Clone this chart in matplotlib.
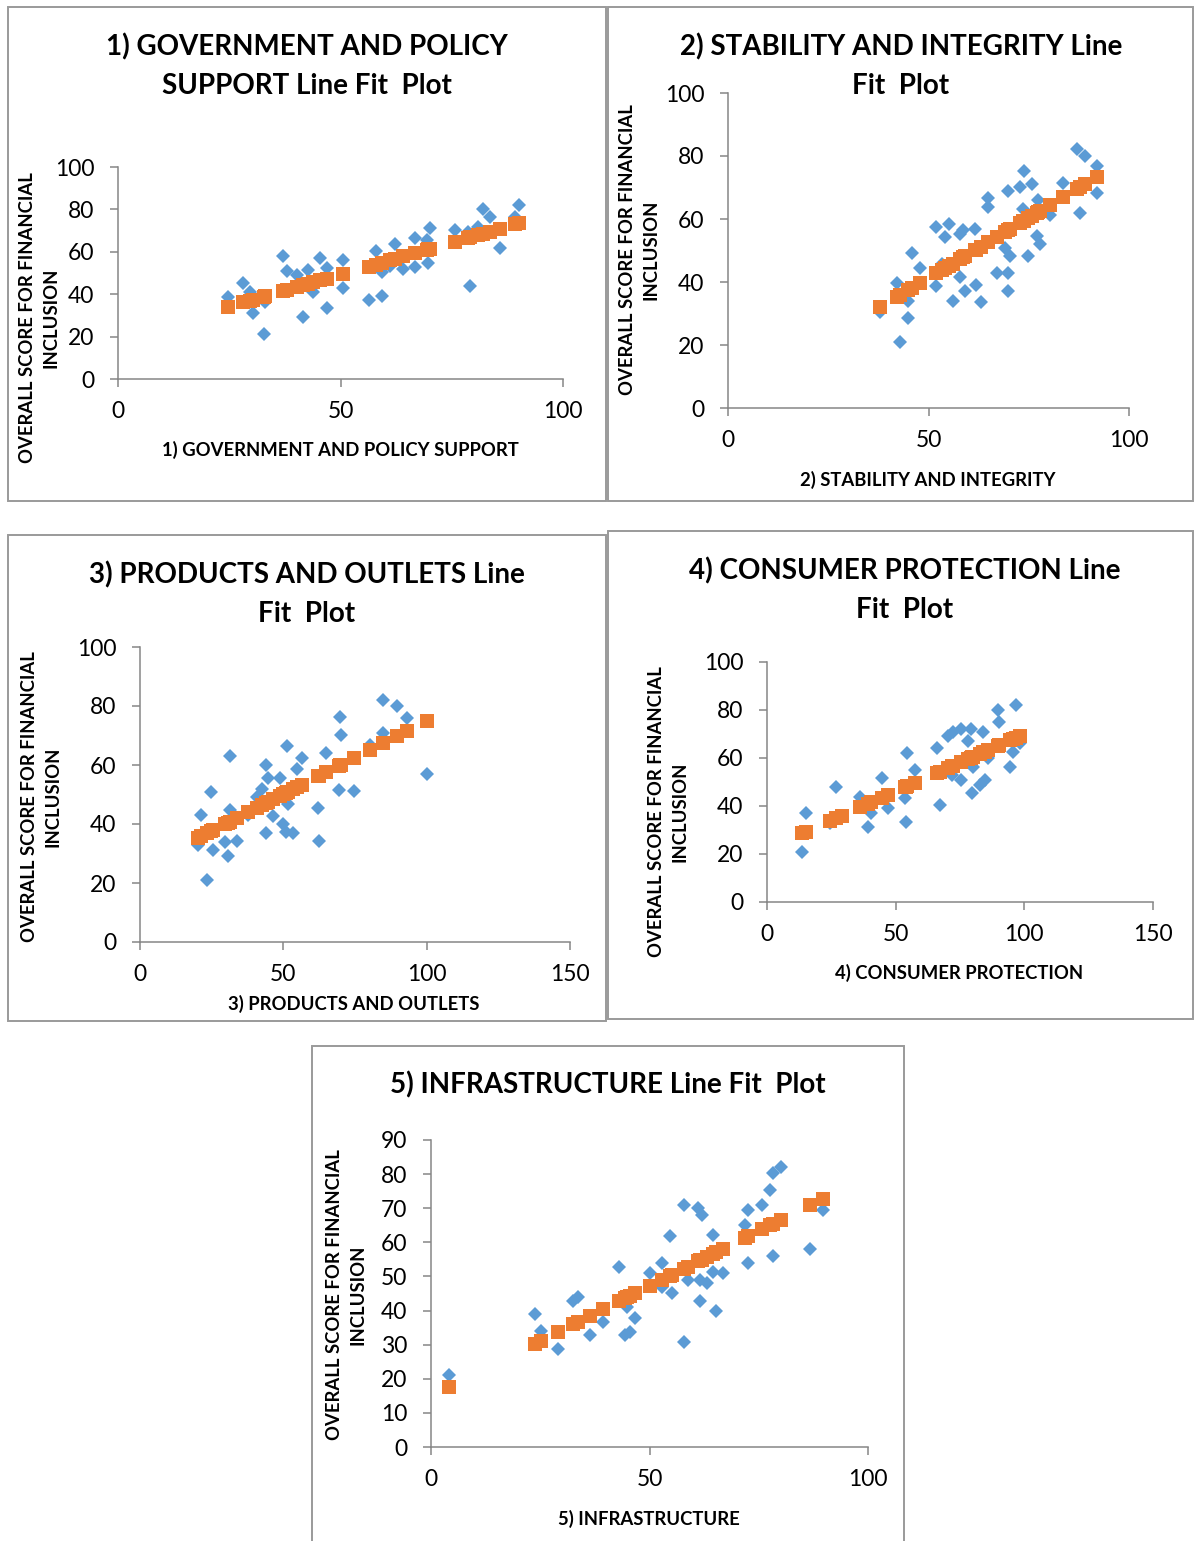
"""Five Excel-style line fit plots: index components vs overall financial inclusion score"""

import matplotlib

matplotlib.use("Agg")
from matplotlib import pyplot as plt
from matplotlib.patches import Rectangle

plt.rcParams["font.family"] = ["Lato", "DejaVu Sans"]

W, H = 1195, 1541
BLUE = "#5B9BD5"
ORANGE = "#ED7D31"
GREY = "#868686"
YLABEL = "OVERALL SCORE FOR FINANCIAL\nINCLUSION"

# 1) government and policy support
gov_x = [24.8, 28.2, 29.7, 30.4, 32.7, 33.0, 37.0, 37.9, 40.2, 41.6, 42.8, 43.9, 45.4,
         46.9, 46.9, 50.6, 50.6, 56.3, 57.9, 59.4, 59.4, 61.1, 62.2, 64.1, 66.7, 66.7,
         69.5, 69.7, 70.0, 75.7, 78.7, 79.1, 81.0, 82.0, 83.6, 85.8, 89.2, 90.0]
gov_y = [38.8, 45.1, 41.2, 31.0, 21.2, 36.5, 58.0, 51.1, 49.0, 29.4, 51.4, 41.2, 57.2,
         52.2, 33.3, 56.1, 42.8, 37.3, 60.4, 39.2, 50.6, 53.3, 63.5, 51.7, 66.4, 53.0,
         65.6, 54.9, 71.1, 70.3, 69.5, 44.0, 71.8, 80.0, 76.3, 62.0, 76.6, 82.0]
gov_fit = [34.1, 36.1, 37.0, 37.4, 38.8, 39.0, 41.4, 42.0, 43.3, 44.2, 44.9, 45.6, 46.5,
           47.4, 47.4, 49.6, 49.6, 53.0, 54.0, 54.9, 54.9, 55.9, 56.6, 57.8, 59.3, 59.3,
           61.0, 61.1, 61.3, 64.7, 66.6, 66.8, 67.9, 68.5, 69.5, 70.8, 72.9, 73.4]

# 2) stability and integrity
stab_x = [37.9, 42.1, 42.9, 45.0, 45.0, 46.0, 47.9, 51.9, 51.9, 53.3, 54.0, 55.0, 56.0,
          57.9, 57.9, 58.7, 59.1, 61.6, 61.8, 63.0, 64.9, 64.9, 67.0, 69.1, 69.9, 69.9,
          69.9, 70.3, 72.8, 73.6, 73.9, 74.9, 75.7, 77.0, 77.4, 77.8, 80.3, 83.6, 87.0,
          87.8, 89.0, 91.9, 91.9]
stab_y = [30.5, 39.8, 20.8, 28.7, 34.1, 49.2, 44.3, 57.4, 38.7, 45.7, 54.4, 58.4, 34.0,
          41.5, 55.3, 56.4, 37.2, 56.9, 38.9, 33.8, 66.6, 63.7, 43.0, 50.7, 42.8, 37.0,
          69.0, 48.1, 70.1, 63.1, 75.1, 48.1, 71.1, 54.7, 66.0, 52.0, 61.2, 71.3, 82.1,
          62.0, 80.0, 76.7, 68.2]
stab_fit = [32.1, 35.2, 35.9, 37.5, 37.5, 38.2, 39.7, 42.7, 42.7, 43.8, 44.3, 45.1, 45.8,
            47.3, 47.3, 47.9, 48.2, 50.1, 50.3, 51.2, 52.6, 52.6, 54.2, 55.8, 56.4, 56.4,
            56.4, 56.7, 58.6, 59.3, 59.5, 60.2, 60.8, 61.8, 62.1, 62.4, 64.4, 66.9, 69.5,
            70.1, 71.0, 73.2, 73.2]

# 3) products and outlets
prod_x = [20.3, 21.2, 23.3, 24.8, 25.6, 29.6, 30.8, 31.4, 31.4, 34.0, 37.8, 40.7, 42.4,
          44.0, 44.0, 44.7, 46.5, 48.8, 50.0, 51.0, 51.4, 51.7, 53.5, 54.6, 56.4, 62.2,
          62.5, 64.8, 69.5, 69.8, 70.0, 74.6, 80.2, 84.9, 84.9, 89.8, 93.2, 100.0]
prod_y = [32.9, 43.1, 21.0, 51.0, 31.3, 33.8, 29.2, 63.1, 44.7, 34.3, 43.1, 49.0, 51.9,
          60.0, 37.0, 55.7, 42.7, 55.7, 40.0, 37.4, 66.3, 46.8, 36.8, 58.6, 62.4, 45.3,
          34.1, 64.2, 51.4, 76.2, 70.2, 51.1, 66.8, 82.0, 70.8, 80.0, 75.8, 57.0]
prod_fit = [35.3, 35.8, 36.8, 37.6, 38.0, 40.0, 40.5, 40.8, 40.8, 42.1, 44.0, 45.5, 46.3,
            47.1, 47.1, 47.5, 48.4, 49.5, 50.1, 50.6, 50.8, 50.9, 51.8, 52.4, 53.3, 56.2,
            56.3, 57.5, 59.8, 60.0, 60.1, 62.4, 65.1, 67.5, 67.5, 69.9, 71.6, 75.0]

# 4) consumer protection
cons_x = [13.5, 15.1, 24.4, 27.0, 29.0, 36.1, 39.3, 40.6, 44.5, 47.1, 53.6, 54.2, 54.5,
          57.4, 65.9, 67.1, 70.4, 71.7, 72.3, 75.5, 75.5, 78.1, 79.4, 79.8, 80.1, 82.7,
          83.9, 84.6, 85.9, 89.8, 90.2, 94.6, 95.6, 96.6, 98.2]
cons_y = [21.0, 37.0, 32.8, 48.0, 35.5, 43.9, 31.4, 37.0, 51.5, 39.0, 43.2, 33.2, 62.2,
          55.0, 64.0, 40.4, 69.3, 52.9, 70.7, 72.1, 50.8, 67.2, 72.1, 45.3, 56.4, 48.8,
          70.7, 50.8, 59.9, 80.0, 75.1, 56.1, 62.6, 82.1, 66.1]
cons_fit = [28.6, 29.3, 33.8, 35.1, 36.0, 39.4, 41.0, 41.6, 43.5, 44.7, 47.8, 48.1, 48.3,
            49.7, 53.7, 54.3, 55.9, 56.5, 56.8, 58.3, 58.3, 59.6, 60.2, 60.4, 60.5, 61.8,
            62.4, 62.7, 63.3, 65.2, 65.4, 67.5, 68.0, 68.5, 69.2]

# 5) infrastructure
infra_x = [4.2, 23.8, 25.1, 29.0, 32.6, 33.7, 36.4, 39.4, 43.1, 44.4, 44.8, 45.5, 46.7,
           50.1, 52.8, 52.8, 54.7, 55.2, 57.8, 57.8, 58.9, 61.2, 61.6, 61.6, 62.0, 63.1,
           64.6, 64.6, 65.3, 66.9, 71.9, 72.6, 72.6, 75.7, 77.6, 78.3, 78.3, 80.2, 86.7,
           89.8]
infra_y = [21.1, 39.0, 34.1, 28.7, 42.9, 43.9, 32.8, 36.7, 52.9, 32.8, 41.1, 33.8, 37.9,
           50.9, 53.9, 47.0, 61.9, 45.2, 71.0, 30.9, 49.0, 70.0, 49.0, 42.9, 68.0, 48.0,
           62.2, 51.4, 39.9, 50.9, 65.0, 69.6, 53.9, 71.0, 75.4, 80.3, 55.9, 82.2, 58.1,
           69.6]
infra_fit = [17.7, 30.3, 31.2, 33.7, 36.0, 36.7, 38.4, 40.4, 42.8, 43.6, 43.9, 44.3, 45.1,
             47.3, 49.0, 49.0, 50.2, 50.5, 52.2, 52.2, 52.9, 54.4, 54.7, 54.7, 54.9, 55.6,
             56.6, 56.6, 57.1, 58.1, 61.3, 61.8, 61.8, 63.8, 65.0, 65.4, 65.4, 66.6, 70.8,
             72.8]

fig = plt.figure(figsize=(W / 100, H / 100), dpi=100)


def fx(px):
    return px / W


def fy(py):
    return 1 - py / H


def box(x0, y0, x1, y1):
    fig.patches.append(
        Rectangle((fx(x0), fy(y1)), fx(x1 - x0), (y1 - y0) / H,
                  transform=fig.transFigure, fill=False, edgecolor="#9a9a9a", lw=1.4)
    )


def line_fit_plot(x, y, fit, frame, axis_px, lims, ticks, title, title_px, xlab_px, ylab_px):
    box(*frame)
    ax_x0, ax_y0, ax_x1, ax_y1 = axis_px
    ax = fig.add_axes([fx(ax_x0), fy(ax_y0), fx(ax_x1 - ax_x0), (ax_y0 - ax_y1) / H])
    ax.plot(x, y, "D", color=BLUE, ms=7.6, mew=0, clip_on=False)
    ax.plot(x, fit, "s", color=ORANGE, ms=10.3, mew=0, clip_on=False)
    ax.set_xlim(0, lims[0])
    ax.set_ylim(0, lims[1])
    ax.set_xticks(ticks[0])
    ax.set_yticks(ticks[1])
    for side in ("top", "right"):
        ax.spines[side].set_visible(False)
    for side in ("left", "bottom"):
        ax.spines[side].set_color(GREY)
        ax.spines[side].set_linewidth(1.1)
    ax.tick_params(colors=GREY, labelcolor="black", labelsize=16.5, length=6, width=1.1,
                   direction="out")
    ax.tick_params(axis="x", pad=10)
    ax.tick_params(axis="y", pad=11)
    for (tx, ty), line in zip(title_px, title):
        fig.text(fx(tx), fy(ty), line, ha="center", va="center", fontsize=20,
                 fontweight="bold")
    fig.text(fx(xlab_px[0]), fy(xlab_px[1]), xlab_px[2], ha="center", va="center",
             fontsize=13.3, fontweight="bold")
    fig.text(fx(ylab_px[0]), fy(ylab_px[1]), YLABEL, ha="center", va="center",
             fontsize=13.3, fontweight="bold", rotation=90, linespacing=1.45)
    return ax


line_fit_plot(gov_x, gov_y, gov_fit, (8, 7, 606, 501), (118, 379, 563, 167),
              (100, 100), ([0, 50, 100], range(0, 101, 20)),
              ["1) GOVERNMENT AND POLICY", "SUPPORT Line Fit  Plot"], [(307, 47), (307, 86)],
              (340, 450, "1) GOVERNMENT AND POLICY SUPPORT"), (39, 318))

line_fit_plot(stab_x, stab_y, stab_fit, (608, 7, 1193, 501), (728, 408, 1129, 93),
              (100, 100), ([0, 50, 100], range(0, 101, 20)),
              ["2) STABILITY AND INTEGRITY Line", "Fit  Plot"], [(901, 47), (901, 86)],
              (928, 480, "2) STABILITY AND INTEGRITY"), (639, 250))

line_fit_plot(prod_x, prod_y, prod_fit, (8, 535, 606, 1021), (140, 942, 570, 647),
              (150, 100), ([0, 50, 100, 150], range(0, 101, 20)),
              ["3) PRODUCTS AND OUTLETS Line", "Fit  Plot"], [(307, 575), (307, 614)],
              (354, 1004, "3) PRODUCTS AND OUTLETS"), (41, 797))

line_fit_plot(cons_x, cons_y, cons_fit, (608, 531, 1193, 1019), (767, 902, 1153, 662),
              (150, 100), ([0, 50, 100, 150], range(0, 101, 20)),
              ["4) CONSUMER PROTECTION Line", "Fit  Plot"], [(905, 571), (905, 610)],
              (959, 973, "4) CONSUMER PROTECTION"), (668, 812))

line_fit_plot(infra_x, infra_y, infra_fit, (312, 1046, 904, 1545), (431, 1447, 868, 1140),
              (100, 90), ([0, 50, 100], range(0, 91, 10)),
              ["5) INFRASTRUCTURE Line Fit  Plot"], [(608, 1085)],
              (649, 1519, "5) INFRASTRUCTURE"), (346, 1295))

fig.savefig("out.png", dpi=100)
